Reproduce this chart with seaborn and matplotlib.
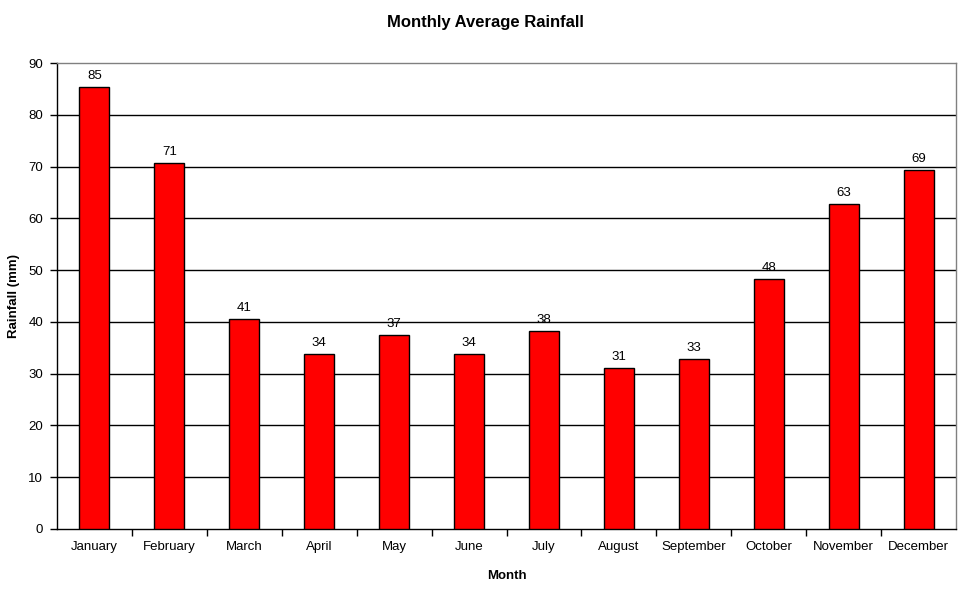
import matplotlib
matplotlib.use("Agg")
import matplotlib.pyplot as plt
import seaborn as sns
import pandas as pd

months = ["January", "February", "March", "April", "May", "June", "July",
          "August", "September", "October", "November", "December"]
rainfall = [85.3, 70.7, 40.6, 33.8, 37.4, 33.8, 38.2, 31.1, 32.8, 48.3, 62.8, 69.3]

df = pd.DataFrame({"Month": months, "Rainfall": rainfall})

sns.set_theme(style="white")
plt.rcParams["font.family"] = ["Liberation Sans", "DejaVu Sans"]

fig = plt.figure(figsize=(9.66, 5.89), dpi=100)
ax = fig.add_axes([0.059, 0.1019, 0.9307, 0.7911])

sns.barplot(data=df, x="Month", y="Rainfall", color="#FF0000", width=0.4,
            edgecolor="black", linewidth=1.0, saturation=1, ax=ax, zorder=3)

ax.set_ylim(0, 90)
ax.set_xlim(-0.5, len(months) - 0.5)
ax.set_yticks(range(0, 91, 10))
for y in range(10, 90, 10):
    ax.axhline(y, color="black", linewidth=1.0, zorder=1)

for i, v in enumerate(rainfall):
    ax.text(i, v + 1.0, f"{round(v):d}", ha="center", va="bottom", fontsize=9.5, color="black")

for side in ["left", "bottom"]:
    ax.spines[side].set_color("black")
    ax.spines[side].set_linewidth(1.0)
for side in ["top", "right"]:
    ax.spines[side].set_color("#808080")
    ax.spines[side].set_linewidth(1.0)
    ax.spines[side].set_visible(True)

ax.set_xticks([i - 0.5 for i in range(1, len(months))], minor=True)
ax.tick_params(axis="x", which="major", length=0, labelsize=9.5, pad=9, colors="black")
ax.tick_params(axis="x", which="minor", length=5, width=1, color="black", direction="out", bottom=True)
ax.tick_params(axis="y", length=5, width=1, color="black", direction="out", left=True, labelsize=9.5, pad=5, colors="black")

ax.set_xlabel("Month", fontsize=9.5, fontweight="bold", labelpad=12, color="black")
ax.set_ylabel("Rainfall (mm)", fontsize=9.5, fontweight="bold", labelpad=6, color="black")
fig.text(0.5025, 1 - 22 / 589, "Monthly Average Rainfall", fontsize=12, fontweight="bold",
         ha="center", va="center", color="black")

fig.savefig("out.png", dpi=100)
